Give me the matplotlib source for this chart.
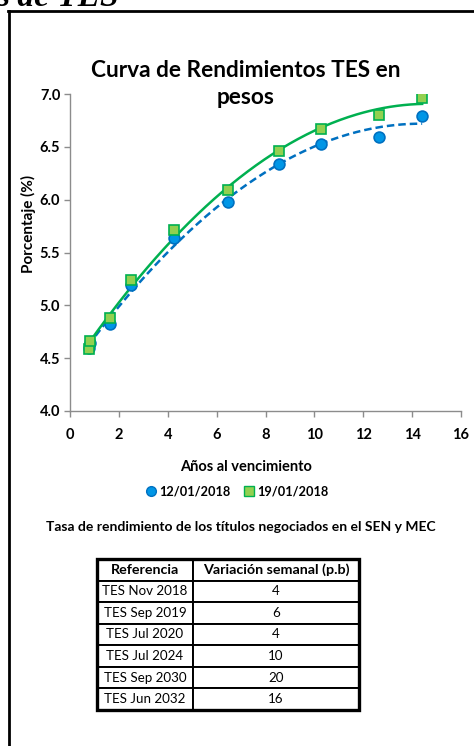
import numpy as np
import matplotlib
matplotlib.use("Agg")
import matplotlib.pyplot as plt
from matplotlib.lines import Line2D
from matplotlib.patches import Rectangle

# years to maturity of the traded TES bonds
years = [0.76, 0.82, 1.63, 2.48, 4.26, 6.48, 8.57, 10.26, 12.64, 14.41]
# yields (%) on each date
yield_jan12 = [4.60, 4.64, 4.82, 5.19, 5.64, 5.98, 6.34, 6.53, 6.59, 6.79]
yield_jan19 = [4.59, 4.66, 4.88, 5.24, 5.71, 6.09, 6.46, 6.67, 6.80, 6.96]
series_labels = ["12/01/2018", "19/01/2018"]

x_ticks = [0, 2, 4, 6, 8, 10, 12, 14, 16]
y_ticks = [4.0, 4.5, 5.0, 5.5, 6.0, 6.5, 7.0]

table_header = ["Referencia", "Variación semanal (p.b)"]
bond_names = ["TES Nov 2018", "TES Sep 2019", "TES Jul 2020",
              "TES Jul 2024", "TES Sep 2030", "TES Jun 2032"]
weekly_change = [4, 6, 4, 10, 20, 16]

W, H = 474, 746
FONT = "Lato"
plt.rcParams["font.family"] = [FONT, "DejaVu Sans"]

blue_line = "#0070C0"
blue_fill = "#0096E6"
green_line = "#00B050"
green_fill = "#92D050"


def fx(px):
    return px / W


def fy(py):
    return 1 - py / H


fig = plt.figure(figsize=(W / 100, H / 100), dpi=100)

# cropped section heading and frame
fig.text(fx(-4), fy(6), "s de TES", family="Liberation Serif", fontsize=24,
         fontweight="bold", style="italic", ha="left", va="baseline")
fig.add_artist(Line2D([fx(9), fx(9)], [fy(11), 0], color="black", lw=2))
fig.add_artist(Line2D([fx(8), 1], [fy(11), fy(11)], color="black", lw=2))

ax = fig.add_axes([fx(70), fy(411), fx(461) - fx(70), fy(94) - fy(411)])
ax.set_xlim(0, 16)
ax.set_ylim(4.0, 7.0)

# 2nd order polynomial trendlines, as in the source
xs = np.linspace(min(years), max(years), 200)
c12 = np.polyfit(years, yield_jan12, 2)
c19 = np.polyfit(years, yield_jan19, 2)
ax.plot(xs, np.polyval(c12, xs), color=blue_line, lw=1.8, ls=(0, (3, 1.6)), zorder=2)
ax.plot(xs, np.polyval(c19, xs), color=green_line, lw=1.8, zorder=2)

ax.plot(years, yield_jan12, "o", ms=7.8, mfc=blue_fill, mec=blue_line, mew=1.2, zorder=3)
ax.plot(years, yield_jan19, "s", ms=7.2, mfc=green_fill, mec=green_line, mew=1.2, zorder=4)

ax.set_xticks(x_ticks)
ax.set_yticks(y_ticks)
ax.set_yticklabels([f"{v:.1f}" for v in y_ticks])
for s in ["top", "right"]:
    ax.spines[s].set_visible(False)
for s in ["left", "bottom"]:
    ax.spines[s].set_color("#8c8c8c")
    ax.spines[s].set_linewidth(1)
ax.tick_params(axis="both", colors="#8c8c8c", length=4, width=1, labelcolor="black",
               labelsize=10.5)
ax.tick_params(axis="x", pad=8)
ax.tick_params(axis="y", pad=3)
for lab in ax.get_xticklabels() + ax.get_yticklabels():
    lab.set_fontweight("bold")

fig.text(fx(246), fy(84), "Curva de Rendimientos TES en\npesos", fontsize=16.3,
         fontweight="bold", ha="center", va="center", linespacing=1.3)
fig.text(fx(28), fy(224), "Porcentaje (%)", rotation=90, fontsize=11,
         fontweight="bold", ha="center", va="center")
fig.text(fx(246), fy(467), "Años al vencimiento", fontsize=10.5,
         fontweight="bold", ha="center", va="center")

handles = [
    Line2D([], [], ls="none", marker="o", ms=7, mfc=blue_fill, mec=blue_line, mew=1),
    Line2D([], [], ls="none", marker="s", ms=6.5, mfc=green_fill, mec=green_line, mew=1),
]
leg = fig.legend(handles, series_labels, loc="center", bbox_to_anchor=(fx(236), fy(491)),
                 ncol=2, frameon=False, handletextpad=0.0, columnspacing=0.9,
                 handlelength=1.2, prop={"family": FONT, "weight": "bold", "size": 9.2})

fig.text(fx(241), fy(527), "Tasa de rendimiento de los títulos negociados en el SEN y MEC",
         fontsize=10, fontweight="bold", ha="center", va="center")

# table
tx0, tx1, ty0, ty1 = 97, 359, 559, 710
tab_ax = fig.add_axes([fx(tx0), fy(ty1), fx(tx1) - fx(tx0), fy(ty0) - fy(ty1)])
tab_ax.axis("off")
cells = [[n, str(v)] for n, v in zip(bond_names, weekly_change)]
tab = tab_ax.table(cellText=cells, colLabels=table_header, bbox=[0, 0, 1, 1],
                   colWidths=[96 / 262, 166 / 262], cellLoc="center")
tab.auto_set_font_size(False)
for (r, c), cell in tab.get_celld().items():
    cell.set_linewidth(1.4)
    cell.set_edgecolor("black")
    cell.get_text().set_fontsize(9.6)
    cell.get_text().set_family(FONT)
    if r == 0:
        cell.get_text().set_fontweight("bold")
        cell.get_text().set_fontsize(10.3)
tab_ax.add_patch(Rectangle((0, 0), 1, 1, transform=tab_ax.transAxes, fill=False,
                           lw=2.4, ec="black", clip_on=False, zorder=10))

fig.savefig("out.png", dpi=100)
